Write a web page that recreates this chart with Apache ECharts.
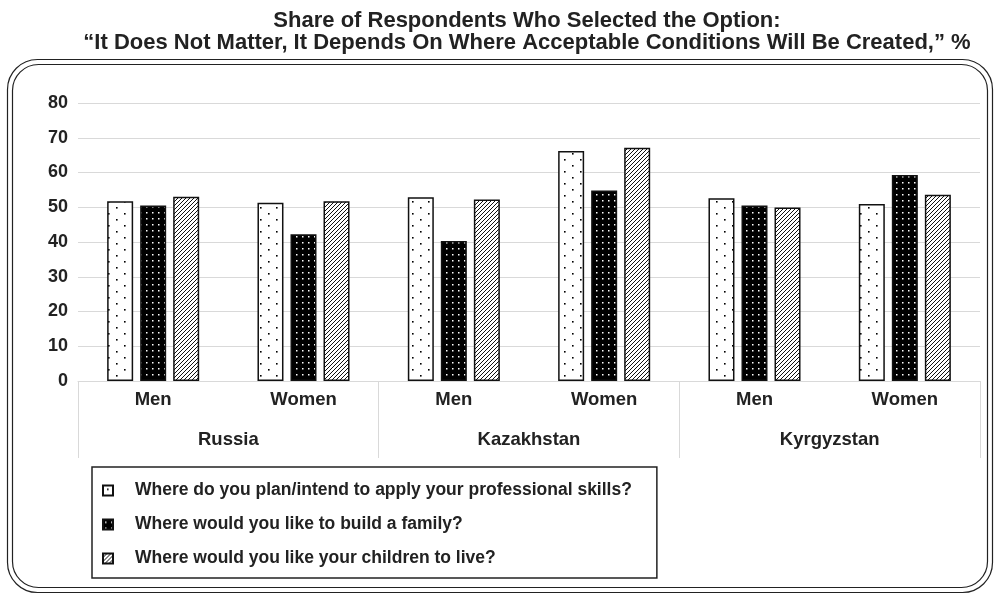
<!DOCTYPE html>
<html>
<head>
<meta charset="utf-8">
<script src="https://cdn.jsdelivr.net/npm/echarts@6/dist/echarts.min.js"></script>
<style>
html,body{margin:0;padding:0;background:#fff;}
#chart{width:1000px;height:595px;}
</style>
</head>
<body>
<div id="chart"></div>
<script>
// ---- data ----
const subCategories = ['Men', 'Women', 'Men', 'Women', 'Men', 'Women'];
const countries = ['Russia', 'Kazakhstan', 'Kyrgyzstan'];
const seriesNames = [
  'Where do you plan/intend to apply your professional skills?',
  'Where would you like to build a family?',
  'Where would you like your children to live?'
];
const applySkills = [51.7, 51.3, 52.9, 66.2, 52.6, 50.9];
const buildFamily = [50.5, 42.2, 40.3, 54.8, 50.5, 59.3];
const childrenLive = [53.0, 51.7, 52.2, 67.1, 49.9, 53.6];
const yTicks = [0, 10, 20, 30, 40, 50, 60, 70, 80];
const titleText = 'Share of Respondents Who Selected the Option:\n\u201cIt Does Not Matter, It Depends On Where Acceptable Conditions Will Be Created,\u201d %';

// ---- patterns ----
function makePattern(kind) {
  const c = document.createElement('canvas');
  const ctx = c.getContext('2d');
  if (kind === 'dots') {
    c.width = 16; c.height = 12;
    ctx.fillStyle = '#fff'; ctx.fillRect(0, 0, 16, 12);
    ctx.fillStyle = '#000';
    ctx.fillRect(4, 3, 1.6, 1.6);
    ctx.fillRect(12, 9, 1.6, 1.6);
  } else if (kind === 'darkdots') {
    c.width = 6; c.height = 6;
    ctx.fillStyle = '#000'; ctx.fillRect(0, 0, 6, 6);
    ctx.fillStyle = '#fff';
    ctx.fillRect(2, 2, 1.5, 1.5);
  } else {
    c.width = 4; c.height = 4;
    ctx.fillStyle = '#fff'; ctx.fillRect(0, 0, 4, 4);
    ctx.strokeStyle = '#111'; ctx.lineWidth = 1;
    ctx.beginPath();
    ctx.moveTo(-1, 5); ctx.lineTo(5, -1);
    ctx.moveTo(-1, 1); ctx.lineTo(1, -1);
    ctx.moveTo(3, 5); ctx.lineTo(5, 3);
    ctx.stroke();
  }
  return { image: c, repeat: 'repeat' };
}
const fills = [makePattern('dots'), makePattern('darkdots'), makePattern('hatch')];
const values = [applySkills, buildFamily, childrenLive];

const font = 'Arial, "Liberation Sans", sans-serif';
const chart = echarts.init(document.getElementById('chart'), null, { renderer: 'canvas' });

const option = {
  animation: false,
  backgroundColor: '#fff',
  title: {
    text: titleText,
    left: 522,
    top: 5,
    textAlign: 'center',
    textStyle: { fontFamily: font, fontWeight: 'bold', fontSize: 22, color: '#222', lineHeight: 22 }
  },
  graphic: [
    { type: 'rect', silent: true, shape: { x: 7.5, y: 59.5, width: 985, height: 533, r: 30 },
      style: { fill: 'none', stroke: '#222', lineWidth: 1.2 } },
    { type: 'rect', silent: true, shape: { x: 12.5, y: 64.5, width: 975, height: 523, r: 26 },
      style: { fill: 'none', stroke: '#222', lineWidth: 1.2 } }
  ],
  grid: { left: 78, right: 20, top: 103, bottom: 214, containLabel: false },
  legend: {
    orient: 'vertical',
    left: 92,
    top: 467,
    padding: [14, 25, 10, 10],
    itemGap: 15,
    itemWidth: 10,
    itemHeight: 10,
    borderColor: '#222',
    borderWidth: 1.5,
    icon: 'rect',
    textStyle: { fontFamily: font, fontWeight: 'bold', fontSize: 17.5, color: '#222', padding: [0, 0, 0, 17], lineHeight: 19 },
    data: seriesNames
  },
  xAxis: [
    {
      type: 'category',
      data: subCategories,
      position: 'bottom',
      axisLine: { show: true, lineStyle: { color: '#d9d9d9', width: 1 } },
      axisTick: { show: false },
      axisLabel: { fontFamily: font, fontWeight: 'bold', fontSize: 18.5, color: '#222', margin: 9 }
    },
    {
      type: 'category',
      data: countries,
      position: 'bottom',
      axisLine: { show: false },
      axisTick: { show: true, length: 77, lineStyle: { color: '#d9d9d9', width: 1 } },
      axisLabel: { fontFamily: font, fontWeight: 'bold', fontSize: 18.5, color: '#222', margin: 49 }
    }
  ],
  yAxis: {
    type: 'value',
    min: 0,
    max: 80,
    interval: 10,
    axisLine: { show: false },
    axisTick: { show: false },
    splitLine: { lineStyle: { color: '#d9d9d9', width: 1 } },
    axisLabel: {
      fontFamily: font, fontWeight: 'bold', fontSize: 18, color: '#222', margin: 10,
      formatter: function (v) { return yTicks.indexOf(v) >= 0 ? String(v) : ''; }
    }
  },
  series: seriesNames.map(function (name, i) {
    return {
      name: name,
      type: 'bar',
      xAxisIndex: 0,
      data: values[i],
      barWidth: 26,
      barGap: '27%',
      itemStyle: { color: fills[i], borderColor: '#111', borderWidth: 1.5 }
    };
  })
};
chart.setOption(option);
</script>
</body>
</html>
